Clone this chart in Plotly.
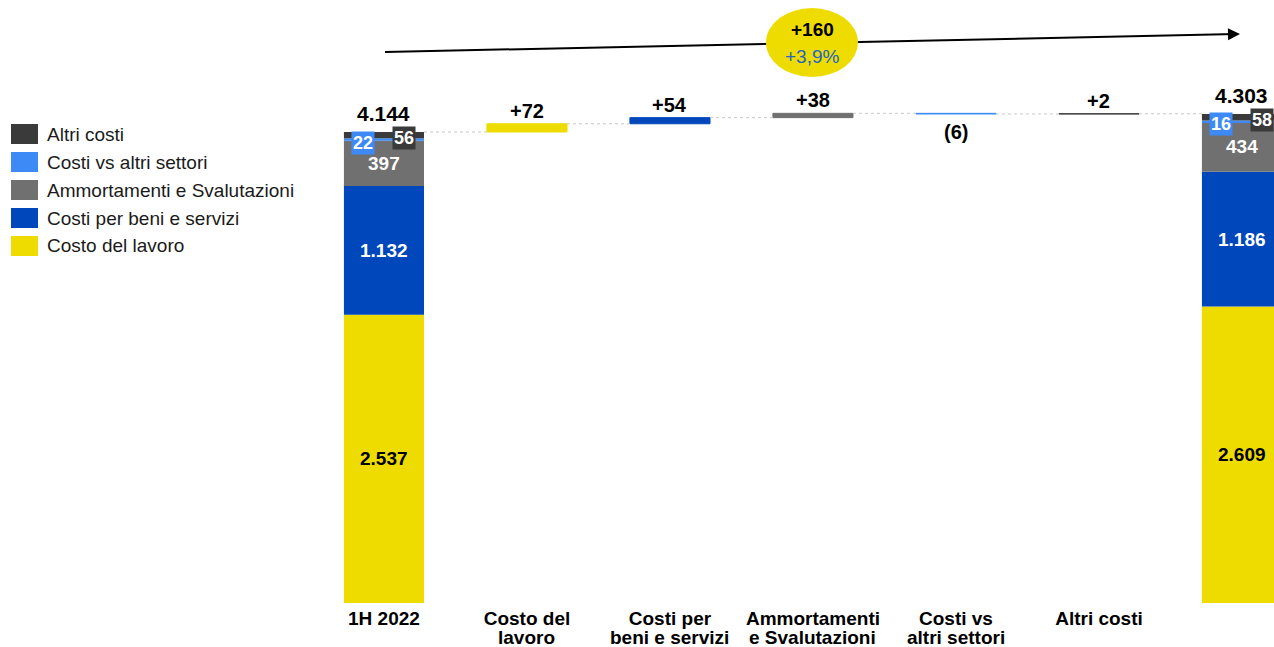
import plotly.graph_objects as go

# ---- data ----
categories = ["1H 2022", "Costo del<br>lavoro", "Costi per<br>beni e servizi",
              "Ammortamenti<br>e Svalutazioni", "Costi vs<br>altri settori", "Altri costi", "1H 2023"]
series = ["Costo del lavoro", "Costi per beni e servizi", "Ammortamenti e Svalutazioni",
          "Costi vs altri settori", "Altri costi"]
values_2022 = [2537, 1132, 397, 22, 56]
values_2023 = [2609, 1186, 434, 16, 58]
deltas = [72, 54, 38, -6, 2]
total_delta = "+160"
total_delta_pct = "+3,9%"
colors = ["#EEDC00", "#0047BB", "#707070", "#3D8AF7", "#3A3A3A"]

FONT = "Liberation Sans, Arial, sans-serif"
W, H = 1274, 647
PLOT_H = 603


def fmt(v):
    return f"{v:,}".replace(",", ".")


def fmt_delta(v):
    return f"+{v}" if v >= 0 else f"({abs(v)})"


def px_x(p):
    return p / W


def px_y(p):
    return 1 - p / PLOT_H


fig = go.Figure()

cum22 = 0
cum23 = 0
running = sum(values_2022)
annotations = []
shapes = []
levels = [running]
for i, name in enumerate(series):
    d = deltas[i]
    base_d = running
    fig.add_trace(go.Bar(
        x=[0, i + 1, 6],
        y=[values_2022[i], d, values_2023[i]],
        base=[cum22, base_d, cum23],
        width=0.56,
        marker=dict(color=colors[i], line=dict(color=colors[i], width=[0, 1, 0])),
        name=name, showlegend=False, hoverinfo="skip",
    ))
    # delta label
    if d >= 0:
        annotations.append(dict(x=i + 1, y=base_d + d, text=f"<b>{fmt_delta(d)}</b>", showarrow=False,
                                yanchor="middle", yshift=13, font=dict(size=20, color="black", family=FONT)))
    else:
        annotations.append(dict(x=i + 1, y=base_d + d, text=f"<b>{fmt_delta(d)}</b>", showarrow=False,
                                yanchor="middle", yshift=-18, font=dict(size=20, color="black", family=FONT)))
    # segment labels
    for xi, val, c0 in [(0, values_2022[i], cum22), (6, values_2023[i], cum23)]:
        mid = c0 + val / 2
        if i < 3:
            annotations.append(dict(x=xi, y=mid, text=f"<b>{fmt(val)}</b>", showarrow=False,
                                    font=dict(size=19, color="black" if i == 0 else "white", family=FONT)))
        else:
            annotations.append(dict(x=xi, y=mid, text=f"<b>{fmt(val)}</b>", showarrow=False,
                                    xshift=-21 if i == 3 else 20, yshift=-3,
                                    bgcolor=colors[i], borderpad=1,
                                    font=dict(size=18, color="white", family=FONT)))
    cum22 += values_2022[i]
    cum23 += values_2023[i]
    running += d
    levels.append(running)

# connector lines (dotted)
for k in range(6):
    fig.add_trace(go.Scatter(x=[k + 0.28, k + 1 - 0.28], y=[levels[k], levels[k]], mode="lines",
                             line=dict(color="#C8C8C8", width=1, dash="dot"),
                             showlegend=False, hoverinfo="skip"))

# totals
for xi, tot in [(0, cum22), (6, cum23)]:
    annotations.append(dict(x=xi, y=tot, text=f"<b>{fmt(tot)}</b>", showarrow=False,
                            yanchor="middle", yshift=18, font=dict(size=21, color="black", family=FONT)))

# category labels: first line as tick label, second line (tighter spacing) as annotation
first_lines = [c.split("<br>")[0] for c in categories]
for k, c in enumerate(categories):
    parts = c.split("<br>")
    if len(parts) > 1:
        annotations.append(dict(x=k, xref="x", yref="paper", y=px_y(637), yanchor="middle",
                                height=19, borderpad=0, valign="middle",
                                text=f"<b>{parts[1]}</b>", showarrow=False,
                                font=dict(size=19, color="black", family=FONT)))

# top arrow: line below the ellipse, head as small annotation arrow
shapes.append(dict(type="line", xref="paper", yref="paper",
                   x0=px_x(385), y0=px_y(52), x1=px_x(1236), y1=px_y(34.1),
                   line=dict(color="black", width=2)))
annotations.append(dict(xref="paper", yref="paper", x=px_x(1240), y=px_y(34), text="",
                        showarrow=True, ax=-14, ay=0.3, axref="pixel", ayref="pixel",
                        arrowhead=2, arrowsize=1.2, arrowwidth=2, arrowcolor="black"))
shapes.append(dict(type="circle", xref="paper", yref="paper",
                   x0=px_x(766), x1=px_x(858), y0=px_y(77), y1=px_y(8),
                   fillcolor="#EEDC00", line=dict(width=0)))
annotations.append(dict(xref="paper", yref="paper", x=px_x(812), y=px_y(29),
                        xanchor="center", yanchor="middle",
                        text=f"<b>{total_delta}</b>", showarrow=False,
                        font=dict(size=19, color="black", family=FONT)))
annotations.append(dict(xref="paper", yref="paper", x=px_x(812), y=px_y(56),
                        xanchor="center", yanchor="middle",
                        text=total_delta_pct, showarrow=False,
                        font=dict(size=19, color="#2464C4", family=FONT)))

# legend (manual)
legend_order = list(range(len(series)))[::-1]
for r, idx in enumerate(legend_order):
    cy = 134 + 28 * r
    shapes.append(dict(type="rect", xref="paper", yref="paper",
                       x0=px_x(11), x1=px_x(38), y0=px_y(cy + 10), y1=px_y(cy - 10),
                       fillcolor=colors[idx], line=dict(width=0)))
    annotations.append(dict(xref="paper", yref="paper", x=px_x(45), y=px_y(cy),
                            xanchor="left", yanchor="middle", text=series[idx], showarrow=False,
                            font=dict(size=19, color="#1a1a1a", family=FONT)))

fig.update_layout(
    width=W, height=H,
    margin=dict(l=0, r=0, t=0, b=H - PLOT_H, autoexpand=False),
    barmode="overlay",
    plot_bgcolor="white", paper_bgcolor="white",
    xaxis=dict(range=[-2.685, 6.224], tickvals=list(range(7)), ticktext=[f"<b>{c}</b>" for c in first_lines],
               showgrid=False, zeroline=False, showline=False, ticks="", automargin=False,
               tickfont=dict(family=FONT, size=19, color="black"),
               ticklabelstandoff=2),
    yaxis=dict(range=[0, 5305], visible=False, automargin=False),
    annotations=annotations,
    shapes=shapes,
)

fig.write_html("out.html", config={"displayModeBar": False},
               post_script="document.body.style.margin='0';document.body.style.overflow='hidden';")
